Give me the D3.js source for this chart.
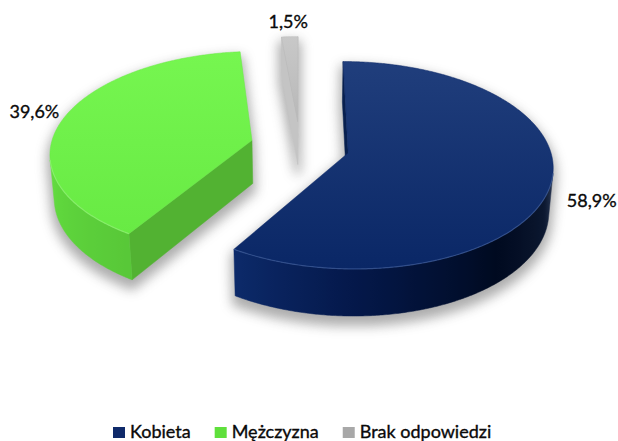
<!DOCTYPE html>
<html><head><meta charset="utf-8">
<script src="https://cdn.jsdelivr.net/npm/d3@7"></script>
<style>body{margin:0;background:#fff}svg{display:block}text{font-family:Lato,"Open Sans",sans-serif;fill:#0a0a0a;stroke:#0a0a0a;stroke-width:0.35px}</style>
</head><body><svg id="c" width="618" height="441"></svg>
<script>
const categories = ["Kobieta", "Mężczyzna", "Brak odpowiedzi"];
const values = [58.9, 39.6, 1.5];
const valueLabels = ["58,9%", "39,6%", "1,5%"];
const topLight = ["#203e7c", "#76f650", "#c8c8c8"];
const topDark = ["#0a2766", "#68ea44", "#b8b8b8"];
const cutColor = ["#08204f", "#52b232", "#c4c4c4"];
const legendColors = ["#0f2a6a", "#5fe03c", "#a8a8a8"];
// wall shading stops: [angle in degrees, colour]
const wallStops = [
  [[90, "#8a96aa"], [100, "#3a4a68"], [115, "#0c1830"], [140, "#000a20"], [180, "#04184a"], [212, "#0c2a6a"]],
  [[212, "#58c838"], [240, "#5ed43c"], [262, "#68e046"], [272, "#8cf076"], [285, "#80ee66"]],
  [[0, "#d0d0d0"], [360, "#d0d0d0"]]
];

const svg = d3.select("#c");
const arcs = d3.pie().sort(null).value(d => d)(values);

const tilt = 30 * Math.PI / 180, cs = Math.cos(tilt), sn = Math.sin(tilt);
const D = 7.35, F = 1479, CX = 300, CY = 146, TH = 0.253, EXP = 0.247;
const cam = [0, D * sn, -D * cs];
function proj(p) { const [X, Y, Z] = p; const yv = Y * cs + Z * sn, zv = D + Z * cs - Y * sn; return [CX + F * X / zv, CY - F * yv / zv]; }
function depth(p) { const [X, Y, Z] = p; return D + Z * cs - Y * sn; }
function visible(P, n) { return (cam[0] - P[0]) * n[0] + (cam[1] - P[1]) * n[1] + (cam[2] - P[2]) * n[2] > 0; }
function wallColor(i, deg) {
  const st = wallStops[i];
  if (deg <= st[0][0]) return st[0][1];
  for (let k = 1; k < st.length; k++) {
    if (deg <= st[k][0]) return d3.interpolateRgb(st[k - 1][1], st[k][1])((deg - st[k - 1][0]) / (st[k][0] - st[k - 1][0]));
  }
  return st[st.length - 1][1];
}

const defs = svg.append("defs");
const blur = defs.append("filter").attr("id", "sh").attr("x", "-20%").attr("y", "-20%").attr("width", "140%").attr("height", "140%");
blur.append("feGaussianBlur").attr("stdDeviation", 6);

const walls = [], tops = [], shadowPolys = [], rims = [];
arcs.forEach((a, i) => {
  const s = a.startAngle, e = a.endAngle, m = (s + e) / 2;
  const ox = EXP * Math.sin(m), oz = EXP * Math.cos(m);
  const rim = (ang, y) => [ox + Math.sin(ang), y, oz + Math.cos(ang)];
  const apex = y => [ox, y, oz];
  const n = Math.max(2, Math.ceil((e - s) / (Math.PI / 360)));
  const angs = d3.range(n + 1).map(k => s + (e - s) * k / n);
  let run = null;
  const runs = [];
  for (let k = 0; k < n; k++) {
    const am = (angs[k] + angs[k + 1]) / 2;
    const vis = visible(rim(am, -TH / 2), [Math.sin(am), 0, Math.cos(am)]);
    if (vis) { if (!run) { run = [angs[k]]; runs.push(run); } run.push(angs[k + 1]); }
    else run = null;
  }
  runs.forEach(r => {
    const topPts = r.map(g => rim(g, 0)), botPts = r.map(g => rim(g, -TH));
    const pts = topPts.concat(botPts.slice().reverse());
    const xs = r.map(g => proj(rim(g, 0))[0]);
    const x0 = d3.min(xs), x1 = d3.max(xs);
    const gid = `wg${i}_${walls.length}`;
    const gr = defs.append("linearGradient").attr("id", gid).attr("gradientUnits", "userSpaceOnUse")
      .attr("x1", x0).attr("x2", x1).attr("y1", 0).attr("y2", 0);
    const stops = r.map((g, k) => ({ o: (xs[k] - x0) / Math.max(1e-6, x1 - x0), c: wallColor(i, g * 180 / Math.PI) }))
      .sort((p, q) => p.o - q.o);
    stops.filter((p, k) => k % 4 === 0 || k === stops.length - 1).forEach(p => gr.append("stop").attr("offset", p.o).attr("stop-color", p.c));
    const mid = rim(r[Math.floor(r.length / 2)], -TH / 2);
    walls.push({ pts, color: `url(#${gid})`, d: depth(mid) });
    rims.push({ i, pts: topPts });
  });
  const faces = [[s, [-Math.cos(s), 0, Math.sin(s)]], [e, [Math.cos(e), 0, -Math.sin(e)]]];
  faces.forEach(([ang, nr]) => {
    const pts = [apex(0), rim(ang, 0), rim(ang, -TH), apex(-TH)];
    const mid = [(pts[0][0] + pts[1][0]) / 2, -TH / 2, (pts[0][2] + pts[1][2]) / 2];
    if (visible(mid, nr)) walls.push({ pts, color: cutColor[i], d: depth(mid) });
  });
  tops.push({ i, pts: [apex(0)].concat(angs.map(g => rim(g, 0))) });
  shadowPolys.push([apex(0)].concat(angs.map(g => rim(g, 0))));
  shadowPolys.push([apex(-TH)].concat(angs.map(g => rim(g, -TH))));
  for (let k = 0; k < n; k++) shadowPolys.push([rim(angs[k], 0), rim(angs[k + 1], 0), rim(angs[k + 1], -TH), rim(angs[k], -TH)]);
  shadowPolys.push([apex(0), rim(s, 0), rim(s, -TH), apex(-TH)]);
  shadowPolys.push([apex(0), rim(e, 0), rim(e, -TH), apex(-TH)]);
});

const line = d3.line();
// shadow
svg.append("g").attr("filter", "url(#sh)").attr("opacity", 0.55).attr("transform", "translate(0,7)")
  .append("g").selectAll("path").data(shadowPolys).join("path")
  .attr("d", p => line(p.map(proj)) + "Z").attr("fill", "#6a6a6a").attr("stroke", "#6a6a6a").attr("stroke-width", 6).attr("stroke-linejoin", "round");

// walls
walls.sort((a, b) => b.d - a.d);
svg.append("g").selectAll("path").data(walls).join("path")
  .attr("d", w => line(w.pts.map(proj)) + "Z")
  .attr("fill", w => w.color).attr("stroke", w => w.color).attr("stroke-width", 0.5).attr("stroke-linejoin", "round");

// tops
tops.forEach(tp => {
  const ys = tp.pts.map(p => proj(p)[1]);
  const g = defs.append("linearGradient").attr("id", "tg" + tp.i).attr("gradientUnits", "userSpaceOnUse")
    .attr("x1", 0).attr("x2", 0).attr("y1", d3.min(ys)).attr("y2", d3.max(ys));
  g.append("stop").attr("offset", 0).attr("stop-color", topLight[tp.i]);
  g.append("stop").attr("offset", 1).attr("stop-color", topDark[tp.i]);
});
svg.append("g").selectAll("path").data(tops).join("path")
  .attr("d", tp => line(tp.pts.map(proj)) + "Z")
  .attr("fill", tp => `url(#tg${tp.i})`).attr("stroke", tp => topDark[tp.i]).attr("stroke-width", 0.5);
svg.append("g").selectAll("path").data(rims.filter(r => r.i < 2)).join("path")
  .attr("d", r => line(r.pts.map(proj)))
  .attr("fill", "none").attr("stroke", r => r.i === 0 ? "#4a6aa8" : "#9cf884").attr("stroke-width", 1.2).attr("opacity", 0.55);

// value labels
const labelOff = [[-2, 14], [7, 0], [0, 2]];
svg.append("g").selectAll("text").data(arcs).join("text")
  .attr("x", (a, i) => { const m = (a.startAngle + a.endAngle) / 2; return proj([(EXP + 1.2) * Math.sin(m), 0, (EXP + 1.2) * Math.cos(m)])[0] + labelOff[i][0]; })
  .attr("y", (a, i) => { const m = (a.startAngle + a.endAngle) / 2; return proj([(EXP + 1.2) * Math.sin(m), 0, (EXP + 1.2) * Math.cos(m)])[1] + labelOff[i][1]; })
  .attr("text-anchor", "middle").attr("dominant-baseline", "middle")
  .attr("font-size", 18).text((a, i) => valueLabels[i]);

// legend
const lg = svg.append("g");
let x = 113;
categories.forEach((c, i) => {
  lg.append("rect").attr("x", x).attr("y", 427).attr("width", 12).attr("height", 11).attr("fill", legendColors[i]);
  const t = lg.append("text").attr("x", x + 17).attr("y", 438).attr("font-size", 18).text(c);
  x += 17 + t.node().getComputedTextLength() + 24;
});
</script></body></html>
